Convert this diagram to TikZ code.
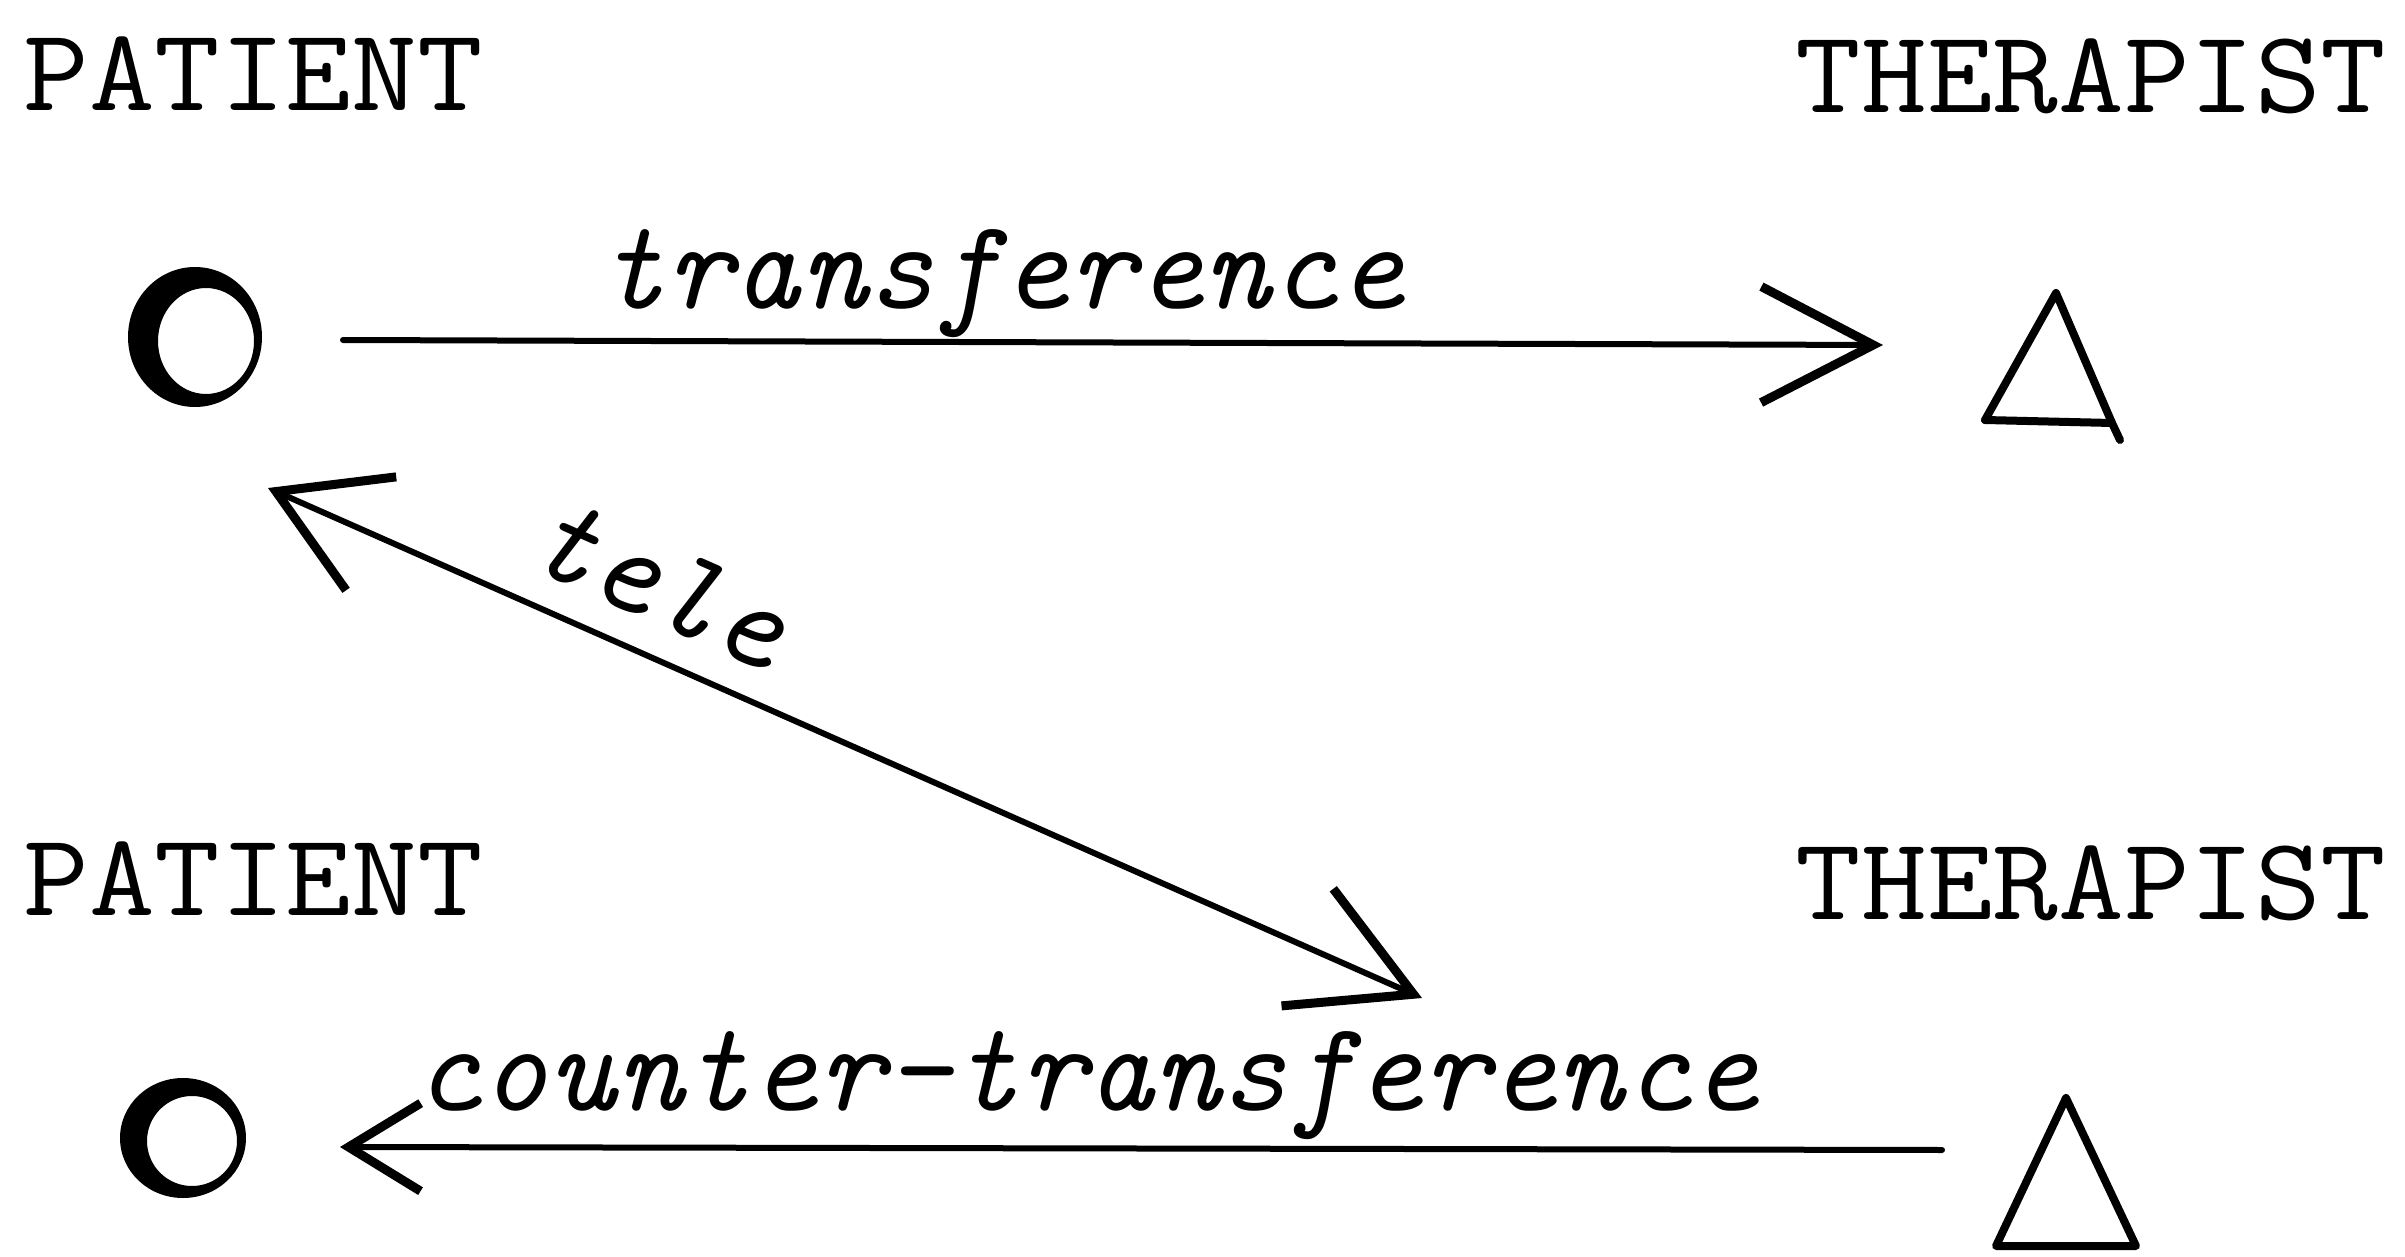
\documentclass[tikz,border=0pt]{standalone}
\usetikzlibrary{arrows.meta}
\begin{document}
\begin{tikzpicture}[x=0.5pt,y=-0.5pt,
  role/.style={font=\fontsize{59}{66}\selectfont\ttfamily, inner sep=0pt, xscale=1.08},
  rel/.style={font=\fontsize{64}{70}\selectfont\ttfamily\itshape, inner sep=0pt},
  conn/.style={line width=3pt, line cap=round},
  shapeline/.style={line width=4pt, line join=round, line cap=round},
  tipA/.style={-{Straight Barb[length=56pt,width=58pt,line width=4.5pt]}},
]
\useasboundingbox (0,0) rectangle (2405,1257);

% role labels
\node[role, anchor=base west] (p1) at (23,111) {PATIENT};
\node[role, anchor=base east] (t1) at (2387,113) {THERAPIST};
\node[role, anchor=base west] (p2) at (23,915) {PATIENT};
\node[role, anchor=base east] (t2) at (2387,919) {THERAPIST};

% patient circles (thick hand-drawn rings)
\coordinate (c1) at (195,337);
\fill[even odd rule] (c1) ellipse [x radius=67, y radius=70]
      (206,341) ellipse [x radius=48, y radius=53];
\coordinate (c2) at (183,1138);
\fill[even odd rule] (c2) ellipse [x radius=63, y radius=60]
      (192,1141) ellipse [x radius=45, y radius=45];

% therapist triangles
\coordinate (a1) at (2056,293);
\coordinate (l1) at (1985,420);
\coordinate (r1) at (2112,423);
\draw[shapeline] (l1) -- (a1) -- (r1) -- (2120,440);
\draw[shapeline] (l1) -- (r1);
\coordinate (a2) at (2066,1098);
\coordinate (l2) at (1996,1246);
\coordinate (r2) at (2136,1246);
\draw[shapeline] (a2) -- (l2) -- (r2) -- cycle;

% connectors
\coordinate (trS) at (343,340);
\coordinate (trE) at (1883,345);
\draw[conn, tipA] (trS) -- (trE);
\node[rel, anchor=base west] (trL) at (598,308) {transference};

\coordinate (teA) at (268,488);
\coordinate (teB) at (1422,998);
\draw[conn, {Straight Barb[length=52pt,width=62pt,line width=4.5pt]}-{Straight Barb[length=58pt,width=64pt,line width=4.5pt]}] (teA) -- (teB);
\node[rel, rotate=-23.8] (teL) at (660,583) {tele};

\coordinate (ctS) at (1942,1150);
\coordinate (ctE) at (340,1147);
\draw[conn, -{Straight Barb[length=36pt,width=44pt,line width=4.5pt]}] (ctS) -- (ctE);
\node[rel, anchor=base west] (ctL) at (414,1110) {counter-transference};
\end{tikzpicture}
\end{document}
